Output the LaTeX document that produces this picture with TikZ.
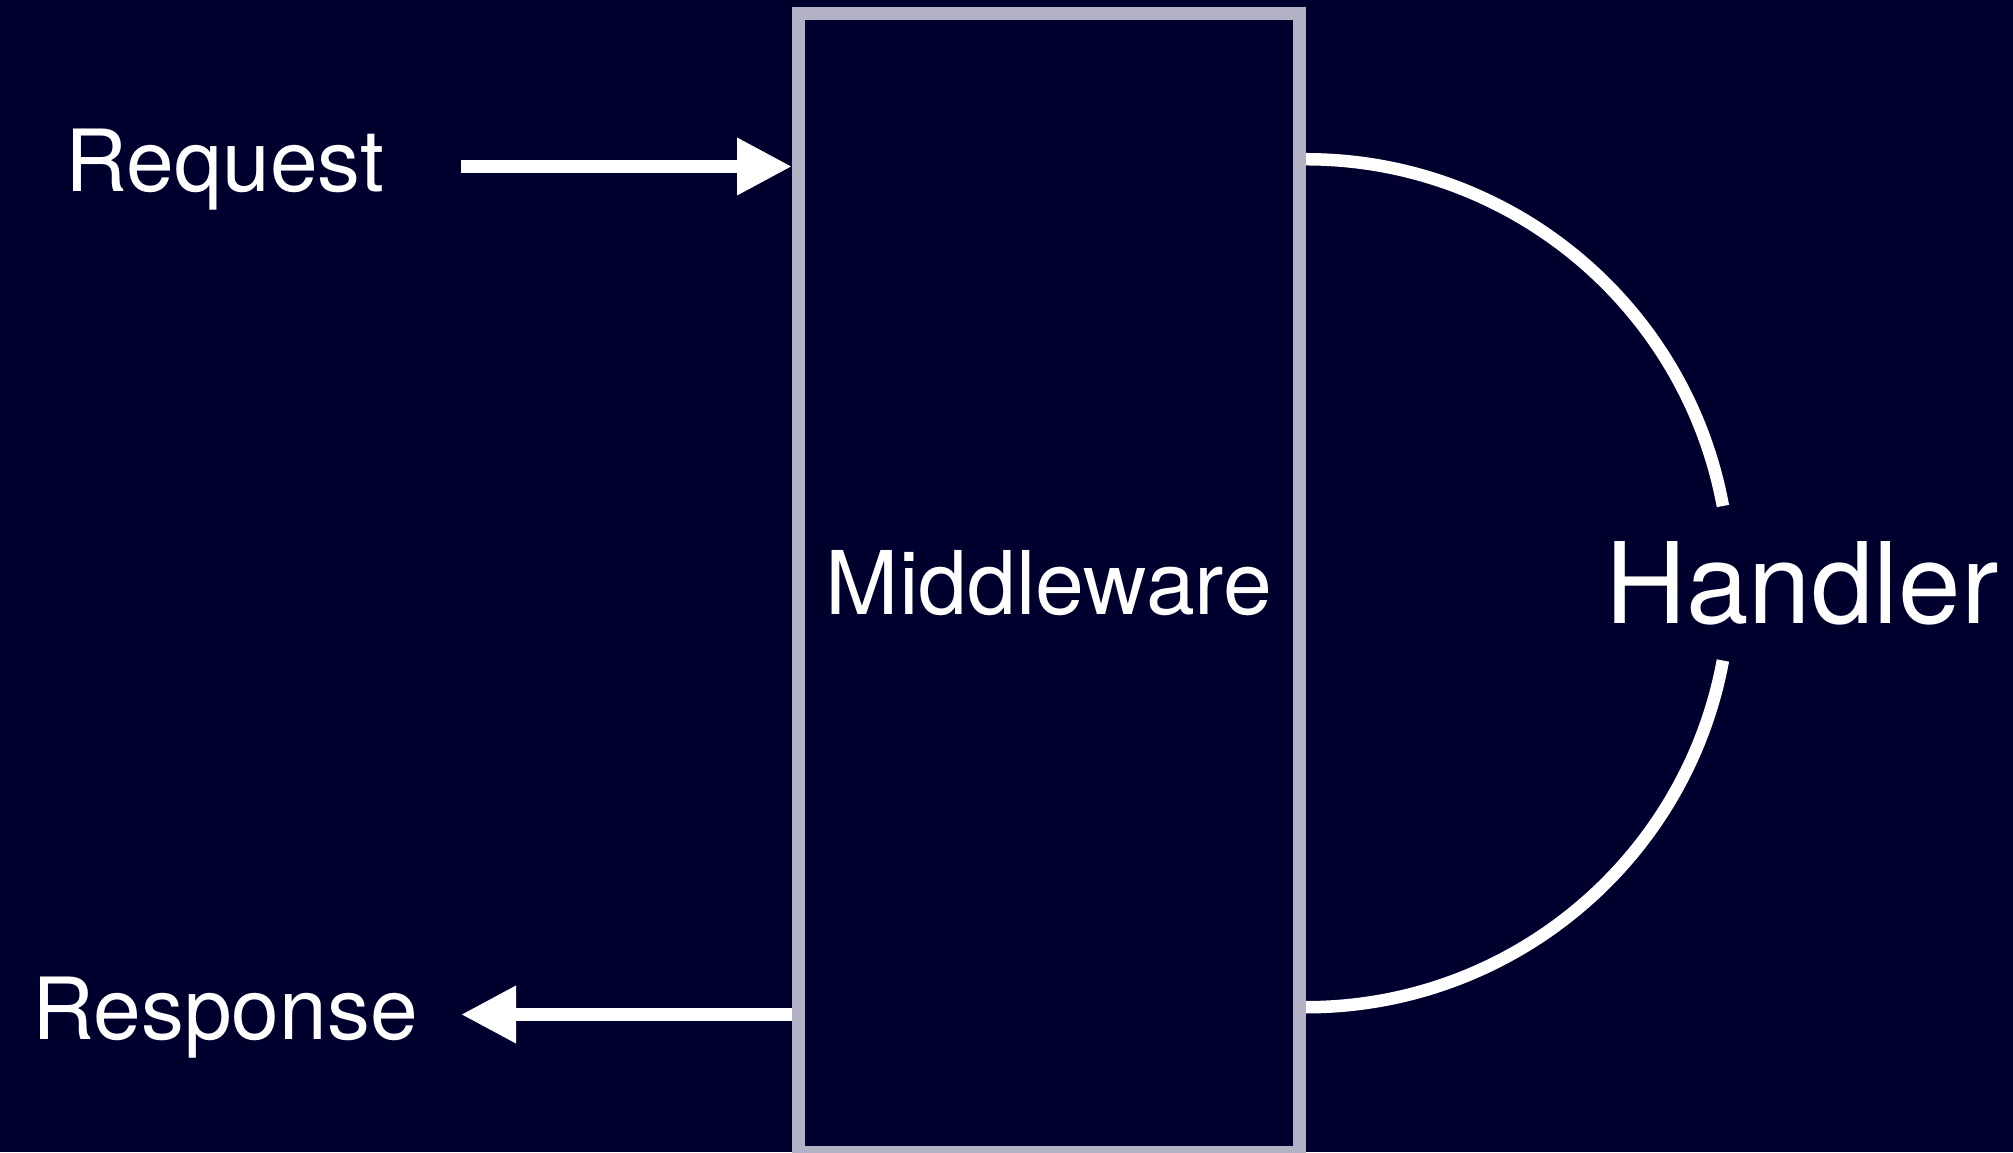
\documentclass[tikz,border=0pt]{standalone}
\usepackage{fontspec}
\setmainfont{TeX Gyre Heros}
\definecolor{nightblue}{RGB}{0, 0, 46}
\definecolor{wallgray}{RGB}{178, 178, 196}
\usetikzlibrary{arrows.meta, calc}

\begin{document}
\begin{tikzpicture}[
  lbl/.style={text=white, font=\fontsize{24.4}{29}\selectfont, inner sep=0pt},
  flow/.style={draw=white, line width=0.13cm, -{Triangle[length=0.55cm, width=0.54cm]}},
  link/.style={draw=white, line width=0.125cm},
  mwbox/.style={draw=wallgray, line width=0.13cm, fill=nightblue, minimum width=5.01cm, minimum height=11.385cm, text=white, font=\fontsize{25}{30}\selectfont}
]
  \fill[nightblue] (0,0) rectangle (20.13,11.52);
  \useasboundingbox (0,0) rectangle (20.13,11.52);
  \node[mwbox] (mw) at (10.49, 5.6875) {Middleware};
  \node[lbl, anchor=base] (req) at (2.25, 9.60) {Request};
  \node[lbl, anchor=base] (resp) at (2.25, 1.13) {Response};
  \node[lbl, font=\fontsize{32}{38}\selectfont] (hdl) at (18.02, 5.69) {Handler};
  \coordinate (reqin) at (4.61, 9.855);
  \coordinate (respout) at (4.61, 1.375);
  \draw[flow] (reqin) -- (reqin -| mw.west);
  \draw[flow] (respout -| mw.west) -- (respout);
  \draw[link] ($(mw.east)+(0,4.24)$) arc[start angle=90, end angle=10.5, radius=4.24];
  \draw[link] ($(mw.east)+(0,-4.24)$) arc[start angle=-90, end angle=-10.5, radius=4.24];
\end{tikzpicture}
\end{document}
